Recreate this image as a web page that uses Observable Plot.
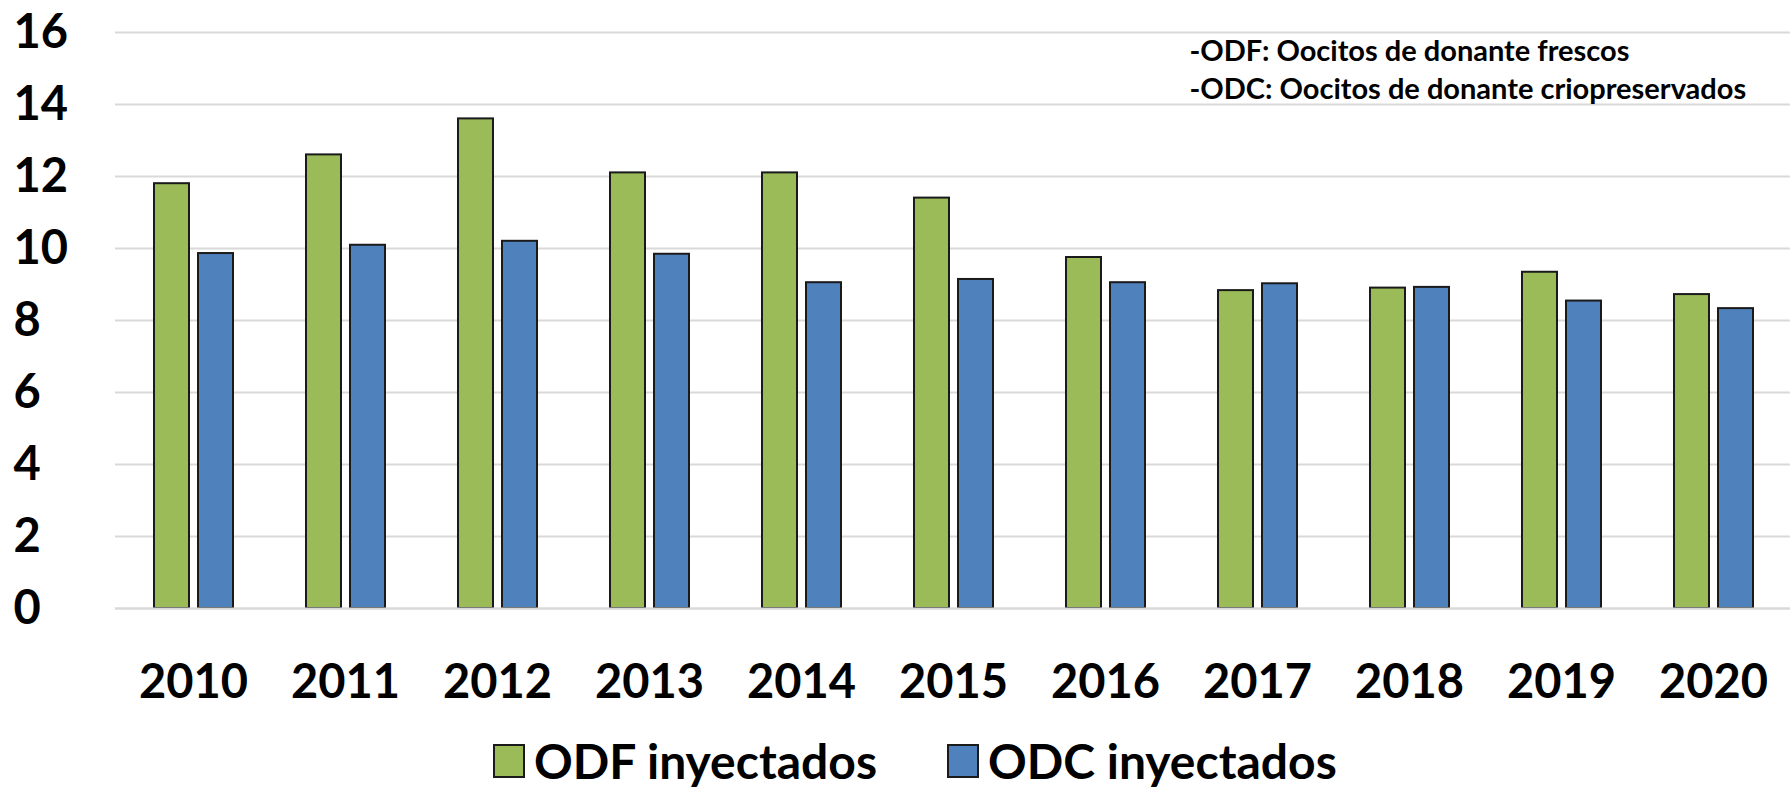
<!DOCTYPE html>
<html>
<head>
<meta charset="utf-8">
<script src="https://cdn.jsdelivr.net/npm/d3@7"></script>
<script src="https://cdn.jsdelivr.net/npm/@observablehq/plot@0.6"></script>
<style>
  html, body { margin: 0; padding: 0; background: #fff; }
  body { width: 1790px; height: 787px; overflow: hidden; font-family: Lato, "Open Sans", sans-serif; }
  #chart { position: relative; }
  #legend { position: absolute; left: 0; top: 733px; display: flex; align-items: center; padding-left: 493px; font-weight: bold; font-size: 48px; line-height: 1.15; color: #000; }
  .item { display: flex; align-items: center; margin-right: 70px; }
  .sw { width: 28px; height: 30px; border: 2px solid #1a1a1a; margin-right: 9px; box-sizing: content-box; }
</style>
</head>
<body>
<div id="chart"></div>
<div id="legend"></div>
<script>
const years = ["2010","2011","2012","2013","2014","2015","2016","2017","2018","2019","2020"];
const odf = [11.8, 12.6, 13.6, 12.1, 12.1, 11.4, 9.75, 8.83, 8.9, 9.34, 8.72];
const odc = [9.86, 10.09, 10.2, 9.84, 9.05, 9.14, 9.05, 9.02, 8.92, 8.54, 8.33];
const seriesNames = ["ODF inyectados", "ODC inyectados"];
const seriesColors = ["#9bbb59", "#4f81bd"];
const yTicks = [0, 2, 4, 6, 8, 10, 12, 14, 16];
const annotation = ["-ODF: Oocitos de donante frescos", "-ODC: Oocitos de donante criopreservados"];

const rowsODF = years.map((y, i) => ({year: y, value: odf[i]}));
const rowsODC = years.map((y, i) => ({year: y, value: odc[i]}));

const chart = Plot.plot({
  width: 1790,
  height: 720,
  marginLeft: 115,
  marginRight: 0,
  marginTop: 32,
  marginBottom: 112,
  style: {fontFamily: "Lato, 'Open Sans', sans-serif", color: "#000", background: "#fff"},
  x: {type: "band", domain: years, padding: 0, label: null},
  y: {domain: [0, 16], ticks: yTicks, label: null},
  marks: [
    Plot.gridY(yTicks, {stroke: "#d9d9d9", strokeWidth: 2, strokeOpacity: 1}),
    Plot.barY(rowsODF, {x: "year", y: "value", fill: seriesColors[0], stroke: "#1a1a1a", strokeWidth: 2, insetLeft: 37, insetRight: 80}),
    Plot.barY(rowsODC, {x: "year", y: "value", fill: seriesColors[1], stroke: "#1a1a1a", strokeWidth: 2, insetLeft: 81, insetRight: 36}),
    Plot.ruleY([0], {stroke: "#d9d9d9", strokeWidth: 2}),
    Plot.axisY({ticks: yTicks, tickSize: 0, tickPadding: 102, textAnchor: "start", fontSize: 47, fontWeight: "bold", label: null}),
    Plot.axisX({tickSize: 0, tickPadding: 56, fontSize: 47, fontWeight: "bold", label: null}),
    Plot.text([annotation.join("\n")], {frameAnchor: "top-left", dx: 1074, dy: 2, lineAnchor: "top", textAnchor: "start", fontSize: 29, fontWeight: "bold", lineHeight: 1.3, fill: "#000"})
  ]
});
document.getElementById("chart").appendChild(chart);

const legend = document.getElementById("legend");
seriesNames.forEach((n, i) => {
  const it = document.createElement("div");
  it.className = "item";
  const sw = document.createElement("div");
  sw.className = "sw";
  sw.style.background = seriesColors[i];
  const t = document.createElement("span");
  t.textContent = n;
  it.appendChild(sw); it.appendChild(t);
  legend.appendChild(it);
});
</script>
</body>
</html>
